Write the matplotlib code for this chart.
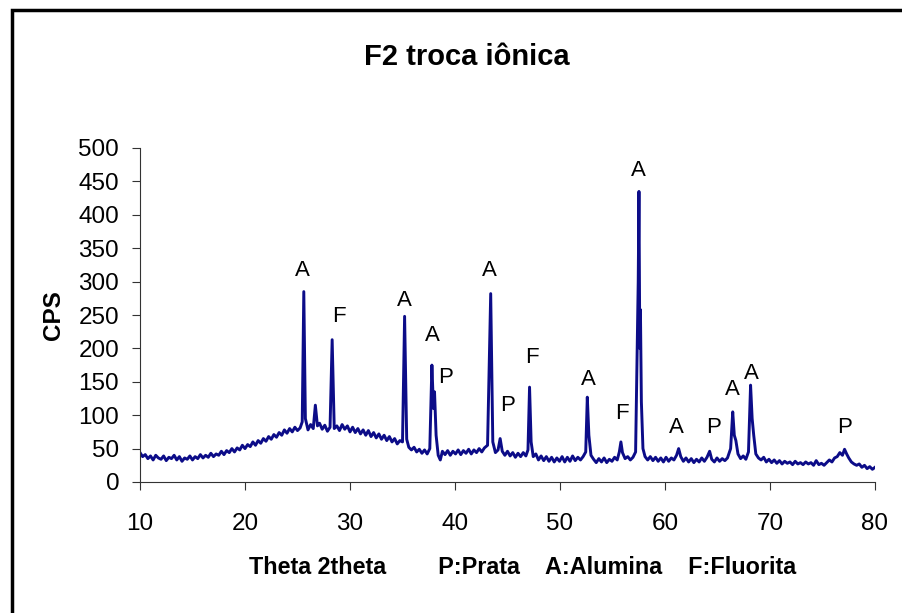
import matplotlib
matplotlib.use('Agg')
import matplotlib.pyplot as plt
from matplotlib.patches import Rectangle

# Data
two_theta = [10.0, 10.25, 10.5, 10.75, 11.0, 11.25, 11.5, 11.75, 12.0, 12.25,
             12.5, 12.75, 13.0, 13.25, 13.5, 13.75, 14.0, 14.25, 14.5, 14.75,
             15.0, 15.25, 15.5, 15.75, 16.0, 16.25, 16.5, 16.75, 17.0, 17.25,
             17.5, 17.75, 18.0, 18.25, 18.5, 18.75, 19.0, 19.25, 19.5, 19.75,
             20.0, 20.25, 20.5, 20.75, 21.0, 21.25, 21.5, 21.75, 22.0, 22.25,
             22.5, 22.75, 23.0, 23.25, 23.5, 23.75, 24.0, 24.25, 24.5, 24.75,
             25.0, 25.25, 25.45, 25.6, 25.75, 26.0, 26.25, 26.5, 26.7, 26.9,
             27.1, 27.35, 27.6, 27.85, 28.1, 28.3, 28.5, 28.75, 29.0, 29.25,
             29.5, 29.75, 30.0, 30.25, 30.5, 30.75, 31.0, 31.25, 31.5, 31.75,
             32.0, 32.25, 32.5, 32.75, 33.0, 33.25, 33.5, 33.75, 34.0, 34.25,
             34.5, 34.75, 35.0, 35.2, 35.4, 35.6, 35.85, 36.1, 36.35, 36.6,
             36.85, 37.1, 37.35, 37.6, 37.8, 37.95, 38.05, 38.2, 38.4, 38.6,
             38.8, 39.05, 39.3, 39.55, 39.8, 40.05, 40.3, 40.55, 40.8, 41.05,
             41.3, 41.55, 41.8, 42.05, 42.3, 42.55, 42.8, 43.1, 43.4, 43.6,
             43.85, 44.1, 44.3, 44.5, 44.75, 45.0, 45.25, 45.5, 45.75, 46.0,
             46.25, 46.5, 46.75, 46.95, 47.1, 47.25, 47.45, 47.7, 47.95, 48.2,
             48.45, 48.7, 48.95, 49.2, 49.45, 49.7, 49.95, 50.2, 50.45, 50.7,
             50.95, 51.2, 51.45, 51.7, 51.95, 52.2, 52.45, 52.6, 52.75, 52.95,
             53.2, 53.45, 53.7, 53.95, 54.2, 54.45, 54.7, 54.95, 55.2, 55.45,
             55.65, 55.8, 55.95, 56.2, 56.45, 56.7, 56.95, 57.2, 57.45, 57.52,
             57.6, 57.66, 57.75, 57.9, 58.1, 58.35, 58.6, 58.85, 59.1, 59.35,
             59.6, 59.85, 60.1, 60.35, 60.6, 60.85, 61.1, 61.3, 61.5, 61.75,
             62.0, 62.25, 62.5, 62.75, 63.0, 63.25, 63.5, 63.75, 64.0, 64.25,
             64.45, 64.7, 64.95, 65.2, 65.45, 65.7, 65.95, 66.25, 66.45, 66.6,
             66.75, 66.95, 67.2, 67.45, 67.7, 67.95, 68.15, 68.3, 68.45, 68.65,
             68.9, 69.15, 69.4, 69.65, 69.9, 70.15, 70.4, 70.65, 70.9, 71.15,
             71.4, 71.65, 71.9, 72.15, 72.4, 72.65, 72.9, 73.15, 73.4, 73.65,
             73.9, 74.15, 74.4, 74.65, 74.9, 75.15, 75.4, 75.65, 75.9, 76.15,
             76.4, 76.65, 76.9, 77.1, 77.3, 77.5, 77.75, 78.0, 78.25, 78.5,
             78.75, 79.0, 79.25, 79.5, 79.75, 80.0]
cps = [44, 38, 41, 35, 39, 33, 40, 36, 34, 39,
       32, 37, 35, 40, 33, 38, 31, 36, 34, 39,
       33, 38, 35, 41, 36, 40, 37, 43, 38, 42,
       40, 46, 41, 47, 44, 50, 45, 51, 48, 55,
       50, 56, 53, 60, 55, 62, 58, 65, 61, 68,
       64, 71, 67, 74, 70, 78, 73, 80, 75, 82,
       77, 81, 90, 285, 95, 78, 86, 80, 115, 84,
       88, 79, 85, 76, 82, 213, 80, 84, 77, 86,
       79, 84, 75, 82, 74, 80, 72, 78, 70, 77,
       68, 74, 66, 72, 64, 70, 62, 68, 60, 65,
       57, 62, 60, 248, 64, 52, 48, 52, 45, 49,
       43, 48, 42, 50, 175, 110, 135, 70, 40, 33,
       46, 41, 47, 40, 46, 42, 48, 41, 47, 43,
       49, 42, 48, 44, 50, 45, 51, 55, 282, 60,
       44, 48, 65, 46, 40, 46, 39, 44, 37, 43,
       38, 44, 39, 48, 142, 60, 38, 42, 33, 39,
       32, 38, 31, 37, 30, 36, 31, 38, 30, 37,
       31, 39, 32, 37, 33, 38, 45, 127, 70, 40,
       34, 29, 35, 30, 36, 29, 34, 31, 37, 33,
       45, 60, 44, 35, 38, 33, 37, 45, 300, 435,
       200, 258, 120, 50, 38, 33, 38, 32, 37, 31,
       36, 30, 37, 31, 36, 33, 40, 50, 38, 31,
       36, 30, 35, 29, 34, 30, 36, 31, 37, 46,
       34, 30, 36, 31, 35, 32, 36, 50, 105, 70,
       62, 42, 35, 39, 34, 45, 145, 95, 70, 42,
       36, 33, 37, 30, 34, 29, 33, 28, 32, 27,
       31, 28, 30, 26, 31, 27, 29, 26, 30, 27,
       29, 25, 32, 26, 28, 25, 29, 33, 30, 36,
       38, 44, 40, 49, 42, 36, 30, 27, 25, 27,
       22, 25, 20, 23, 19, 22]

# Phase labels: P = Prata, A = Alumina, F = Fluorita
label_text = ['A', 'F', 'A', 'A', 'P', 'A', 'P', 'F', 'A', 'F', 'A', 'A', 'P', 'A', 'A', 'P']
label_x = [25.5, 28.9, 35.2, 37.8, 39.1, 43.3, 45.0, 47.3, 52.7, 55.9, 57.5, 61.1, 64.6, 66.4, 68.2, 77.1]
label_y = [317, 248, 272, 220, 156, 317, 115, 186, 153, 103, 467, 81, 81, 138, 163, 81]

plt.rcParams['font.family'] = ['Liberation Sans', 'DejaVu Sans']

fig = plt.figure(figsize=(9.02, 6.13), dpi=100)
ax = fig.add_axes([140 / 902, 1 - 482 / 613, 735 / 902, 334 / 613])

ax.plot(two_theta, cps, color='#0c0c88', linewidth=2.1)

for t, x, y in zip(label_text, label_x, label_y):
    ax.text(x, y, t, ha='center', va='center', fontsize=16, color='black')

ax.set_xlim(10, 80)
ax.set_ylim(0, 500)
ax.set_xticks(range(10, 81, 10))
ax.set_yticks(range(0, 501, 50))
ax.tick_params(labelsize=17.5, length=6, direction='out', color='#333333')
ax.tick_params(axis='x', pad=16)
ax.tick_params(axis='y', pad=9)
for side in ['top', 'right']:
    ax.spines[side].set_visible(False)
for side in ['left', 'bottom']:
    ax.spines[side].set_color('#333333')

ax.set_ylabel('CPS', fontsize=17.5, fontweight='bold', labelpad=10)
ax.set_xlabel('Theta 2theta        P:Prata    A:Alumina    F:Fluorita',
              fontsize=16.8, fontweight='bold')
ax.xaxis.set_label_coords(0.52, -0.222)
fig.text(467 / 902, 1 - 57 / 613, 'F2 troca iônica', ha='center', va='center',
         fontsize=21, fontweight='bold')

# Outer chart frame (right and bottom edges fall outside the picture)
fig.patches.append(Rectangle((11.5 / 902, -0.1), 1.2, 1 - 10.5 / 613 + 0.1,
                             transform=fig.transFigure, fill=False,
                             edgecolor='black', linewidth=2.5))

fig.savefig('out.png', dpi=100)
